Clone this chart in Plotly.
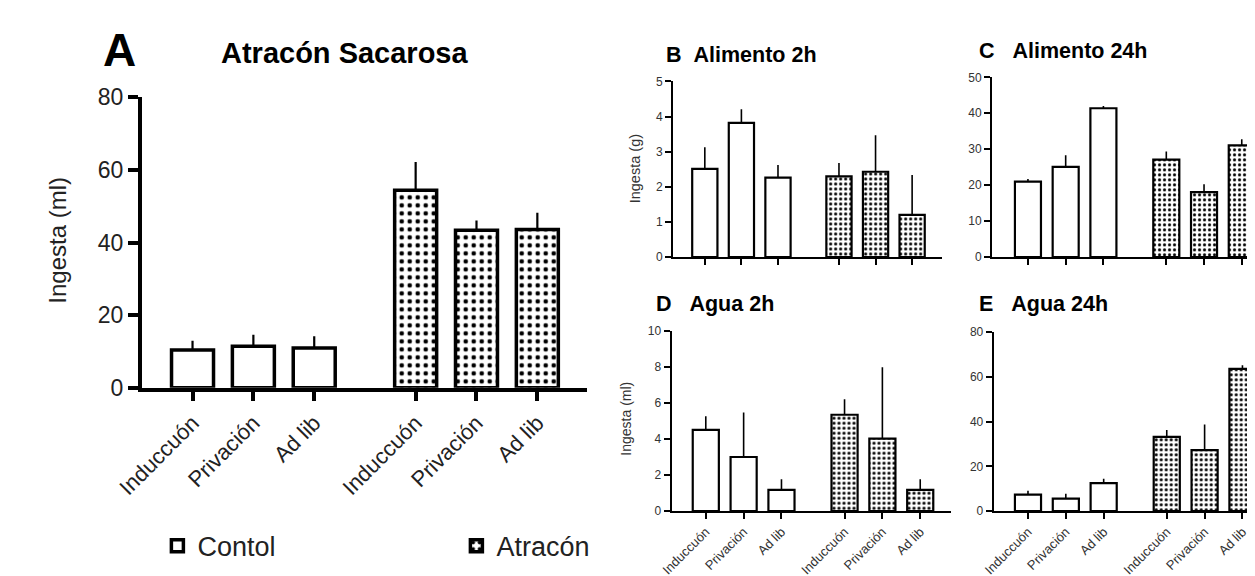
import plotly.graph_objects as go

# ---------------- data ----------------
groups = ["Contol", "Atracón"]
conditions = ["Induccuón", "Privación", "Ad lib"]

# Panel A: Atracón Sacarosa (ml)
a_mean = [10.4, 11.4, 10.9, 54.4, 43.4, 43.6]
a_sem = [2.5, 3.2, 3.3, 7.8, 2.7, 4.6]
# Panel B: Alimento 2h (g)
b_mean = [2.51, 3.82, 2.26, 2.30, 2.43, 1.20]
b_sem = [0.62, 0.39, 0.36, 0.38, 1.04, 1.14]
# Panel C: Alimento 24h (g)
c_mean = [21.0, 25.1, 41.4, 27.1, 18.1, 31.1]
c_sem = [0.7, 3.2, 0.6, 2.3, 2.2, 1.7]
# Panel D: Agua 2h (ml)
d_mean = [4.5, 3.0, 1.18, 5.34, 4.02, 1.18]
d_sem = [0.76, 2.47, 0.58, 0.86, 3.95, 0.58]
# Panel E: Agua 24h (ml)
e_mean = [7.4, 5.6, 12.5, 33.2, 27.3, 63.6]
e_sem = [1.7, 2.2, 2.0, 3.1, 11.4, 1.6]

# ---------------- layout helpers ----------------
W, H = 1255, 576
FONT = "Liberation Sans, Arial, Helvetica, sans-serif"
GAP = 0.667  # extra space between the two groups (in category units)
BAR_W = 0.69


def px(x):
    return x / W


def py(y):
    return 1 - y / H


positions = [i + g * (len(conditions) + GAP) for g in range(len(groups)) for i in range(len(conditions))]
labels = conditions * len(groups)

fig = go.Figure()

panels = [
    # key, mean, sem, big?, pattern size, solidity, showlegend
    ("", a_mean, a_sem, True, 8, 0.26, True),
    ("2", b_mean, b_sem, False, 5, 0.3, False),
    ("3", c_mean, c_sem, False, 5, 0.3, False),
    ("4", d_mean, d_sem, False, 5, 0.3, False),
    ("5", e_mean, e_sem, False, 5, 0.3, False),
]

for key, mean, sem, big, psize, psol, showleg in panels:
    n = len(conditions)
    for g, gname in enumerate(groups):
        xs = positions[g * n:(g + 1) * n]
        ys = mean[g * n:(g + 1) * n]
        es = sem[g * n:(g + 1) * n]
        if g == 0:
            pattern = dict(shape="")
        else:
            pattern = dict(shape=".", fgcolor="black", bgcolor="white",
                           size=psize, solidity=psol, fillmode="replace")
        fig.add_trace(go.Bar(
            x=xs, y=ys, width=BAR_W, name=gname,
            legendgroup=gname, showlegend=showleg,
            marker=dict(color="white", line=dict(color="black", width=3.5 if big else 2.2),
                        pattern=pattern),
            error_y=dict(type="data", array=es, arrayminus=[0] * n, symmetric=False,
                         width=0, thickness=2.2 if big else 1.6, color="black"),
            xaxis="x" + key, yaxis="y" + key,
            hoverinfo="skip",
        ))

# axis geometry (pixel based)
# key: (x_axis_left_px, x_axis_right_px, y0_px, ytop_px, xrange, yrange, dtick, showlabels, big)
geo = {
    "": (110, 564.5, 384, 80, [-0.835, 6.48], [0, 80], 20, True, True),
    "2": (652.7, 926.7, 247.3, 63.3, [-0.865, 6.47], [0, 5], 1, False, False),
    "3": (978.3, 1255, 247.3, 59, [-0.952, 6.23], [0, 50], 10, False, False),
    "4": (651, 936, 513.3, 324.3, [-0.906, 6.47], [0, 10], 2, True, False),
    "5": (980, 1255, 513.3, 326, [-0.906, 6.21], [0, 80], 20, True, False),
}

layout = {}
for key, (xl, xr, y0, yt, xrng, yrng, dt, showlab, big) in geo.items():
    lw = 3.5 if big else 2
    tl = 10 if big else 6
    tfont = dict(family=FONT, size=23 if big else 12, color="#222" if big else "#333")
    xfont = dict(family=FONT, size=22 if big else 13, color="#222" if big else "#333")
    layout["xaxis" + key] = dict(
        domain=[px(xl), min(px(xr), 1.0)], range=xrng, anchor="y" + key,
        showgrid=False, zeroline=False, showline=True, linecolor="black", linewidth=lw,
        ticks="outside", ticklen=tl, tickwidth=lw, tickcolor="black",
        tickmode="array", tickvals=positions,
        ticktext=labels if showlab else [""] * len(labels),
        showticklabels=showlab, tickangle=-45, tickfont=xfont, fixedrange=True,
    )
    layout["yaxis" + key] = dict(
        domain=[py(y0), py(yt)], range=yrng, anchor="x" + key,
        showgrid=False, zeroline=False, showline=True, linecolor="black", linewidth=lw,
        ticks="outside", ticklen=tl, tickwidth=lw, tickcolor="black",
        dtick=dt, tick0=0, tickfont=tfont, fixedrange=True,
    )

TS = 21.5
annotations = [
    dict(text="<b>A</b>", x=px(87.5), y=py(30), font=dict(family=FONT, size=46, color="black")),
    dict(text="<b>Atracón Sacarosa</b>", x=px(317.5), y=py(33), font=dict(family=FONT, size=29, color="black")),
    dict(text="<b>B\u00a0\u00a0Alimento 2h</b>", x=px(643), y=py(36), xanchor="left",
         font=dict(family=FONT, size=TS, color="black")),
    dict(text="<b>C\u00a0\u00a0\u00a0Alimento 24h</b>", x=px(963), y=py(31.5), xanchor="left",
         font=dict(family=FONT, size=TS, color="black")),
    dict(text="<b>D\u00a0\u00a0\u00a0Agua 2h</b>", x=px(633), y=py(296.5), xanchor="left",
         font=dict(family=FONT, size=TS, color="black")),
    dict(text="<b>E\u00a0\u00a0\u00a0Agua 24h</b>", x=px(963), y=py(296), xanchor="left",
         font=dict(family=FONT, size=TS, color="black")),
    dict(text="Ingesta (ml)", x=px(24.5), y=py(229), textangle=-90,
         font=dict(family=FONT, size=24, color="#222")),
    dict(text="Ingesta (g)", x=px(614), y=py(155), textangle=-90,
         font=dict(family=FONT, size=14.5, color="#333")),
    dict(text="Ingesta (ml)", x=px(605), y=py(416), textangle=-90,
         font=dict(family=FONT, size=14, color="#333")),
]
for a in annotations:
    a.update(xref="paper", yref="paper", showarrow=False)
    a.setdefault("xanchor", "center")
    a.setdefault("yanchor", "middle")

fig.update_layout(
    width=W, height=H, autosize=False,
    margin=dict(l=0, r=0, t=0, b=0),
    paper_bgcolor="white", plot_bgcolor="white",
    barmode="overlay",
    annotations=annotations,
    legend=dict(orientation="h", x=px(126), y=py(550), xanchor="left", yanchor="middle",
                font=dict(family=FONT, size=27, color="#222"),
                entrywidth=254, entrywidthmode="pixels", bgcolor="rgba(0,0,0,0)"),
    **layout,
)

fig.write_html("out.html")
